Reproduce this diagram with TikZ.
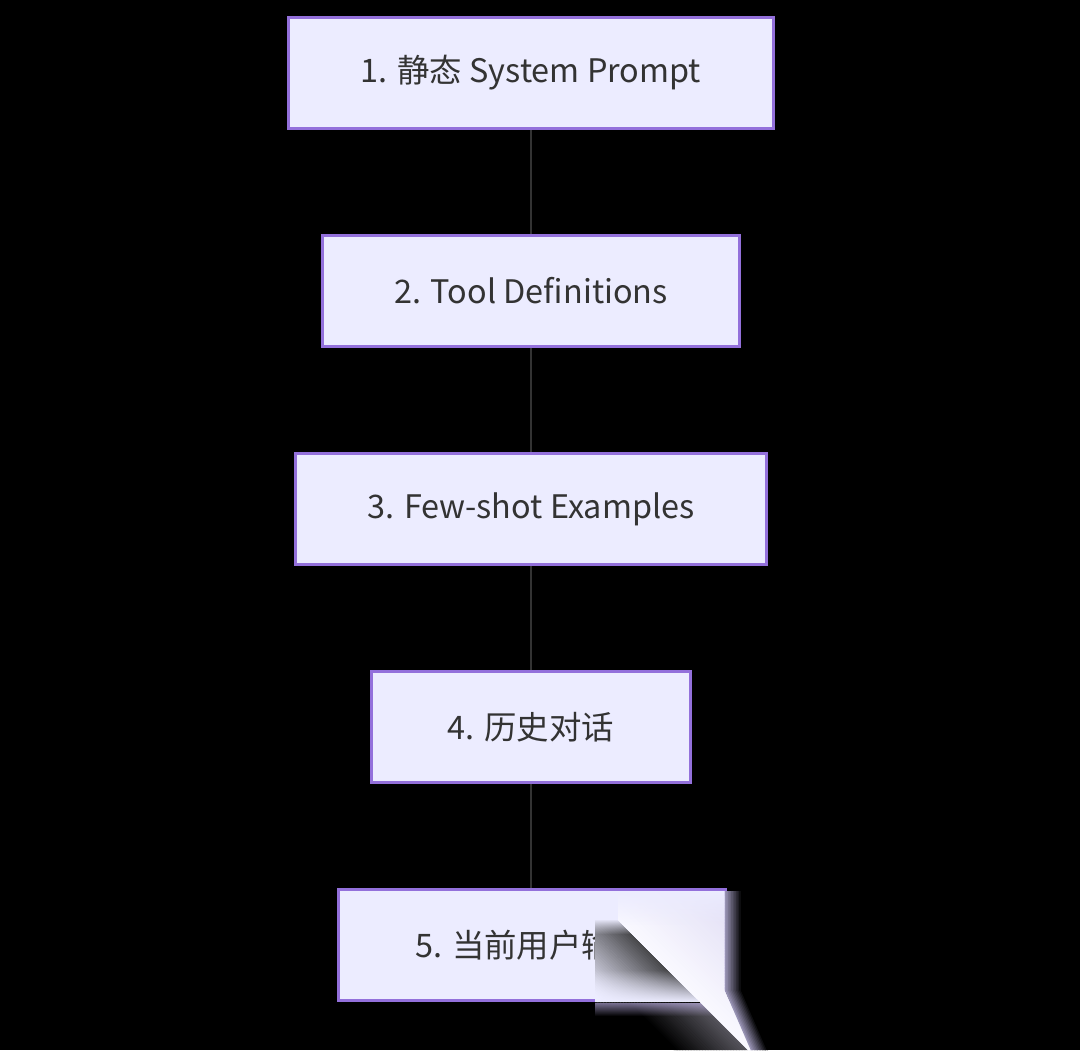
\documentclass[tikz,border=0pt]{standalone}
\usepackage{fontspec}
\setmainfont{Noto Sans CJK SC}
\usetikzlibrary{positioning}
\usetikzlibrary{fadings}

\definecolor{boxfill}{HTML}{ECECFF}
\definecolor{boxline}{HTML}{9370DB}
\definecolor{inktext}{HTML}{333333}
\definecolor{linkline}{HTML}{333333}
\definecolor{curlwhite}{HTML}{FAF9FF}
\definecolor{curledge}{HTML}{E2DFF5}
\definecolor{curldark}{HTML}{2C2C2C}
\definecolor{curlgray}{HTML}{6A6872}
\definecolor{curlrim}{HTML}{A9A3C8}

\tikzfading[name=fadeup,top color=transparent!100,bottom color=transparent!0]
\tikzfading[name=fadedown,top color=transparent!0,bottom color=transparent!100]

\tikzset{
  stage/.style={draw=boxline,line width=1.5pt,fill=boxfill,text=inktext,
    minimum height=55.5pt,inner sep=0pt,font=\fontsize{16.2}{20}\selectfont},
  link/.style={draw=linkline,line width=1.4pt},
}

\begin{document}
\begin{tikzpicture}[x=0.5pt,y=-0.5pt,node distance=52pt]
  \fill [black] (0,0) rectangle (1080,1050);
  \useasboundingbox (0,0) rectangle (1080,1050);

  \node [stage,minimum width=242.5pt] (s1) at (531,73) {1. 静态 System Prompt};
  \node [stage,minimum width=208.5pt,below=of s1] (s2) {2. Tool Definitions};
  \node [stage,minimum width=235.5pt,below=of s2] (s3) {3. Few-shot Examples};
  \node [stage,minimum width=159.5pt,below=of s3] (s4) {4. 历史对话};
  \node [stage,minimum width=193pt,below=of s4] (s5) {5. 当前用户输入};

  \path [link]
    (s1) edge (s2)
    (s2) edge (s3)
    (s3) edge (s4)
    (s4) edge (s5);

  % curled corner over the last box
  \begin{scope}
    \clip (595,920) -- (618,920) -- (700,1002) -- (595,1002) -- cycle;
    \begin{scope}[shift={(618,920)},rotate=-45]
      \foreach \s [evaluate=\s as \p using {max(0,85-1.25*\s)}] in {0,2,...,72}
        \fill [curldark!\p!boxfill] (-40,\s) rectangle (200,\s+2.5);
    \end{scope}
    \fill [boxfill,path fading=fadeup] (595,970) rectangle (720,1002);
    \fill [boxfill,path fading=fadedown] (595,919) rectangle (720,934);
  \end{scope}

  \begin{scope}
    \clip (595,1003) -- (701,1003) -- (748,1050) -- (595,1050) -- cycle;
    \fill [black] (595,1002) rectangle (760,1050);
    \begin{scope}[shift={(618,920)},rotate=-45]
      \foreach \s [evaluate=\s as \p using {max(0,80-1.6*\s)}] in {0,2,...,50}
        \fill [curlgray!\p!black] (40,\s) rectangle (220,\s+2.5);
    \end{scope}
    \fill [boxfill!60!boxline,opacity=0.6,path fading=fadedown] (595,1003) rectangle (720,1016);
  \end{scope}

  \begin{scope}
    \clip (618,920) -- (618,891) -- (724.5,891) -- (724.5,990) -- (752,1050) -- (748,1050) -- cycle;
    \fill [boxfill] (600,885) rectangle (760,1052);
    \begin{scope}[shift={(618,920)},rotate=-45]
      \foreach \s [evaluate=\s as \p using {max(0,100-1.1*\s)}] in {0,2,...,90}
        \fill [curlwhite!\p!curledge] (-30,-\s) rectangle (220,-\s-2.5);
    \end{scope}
    \fill [boxfill,path fading=fadedown] (600,891) rectangle (730,925);
  \end{scope}
  \foreach \k [evaluate=\k as \p using {90-9*\k}] in {0,...,10}
    \draw [curlrim!\p!black,line width=1.2pt]
      (726+1.6*\k,891) -- (726+1.6*\k,990) -- (752+1.6*\k,1050);
  \draw [boxline,line width=1.5pt] (700,889.75) -- (726.5,889.75);
\end{tikzpicture}
\end{document}
